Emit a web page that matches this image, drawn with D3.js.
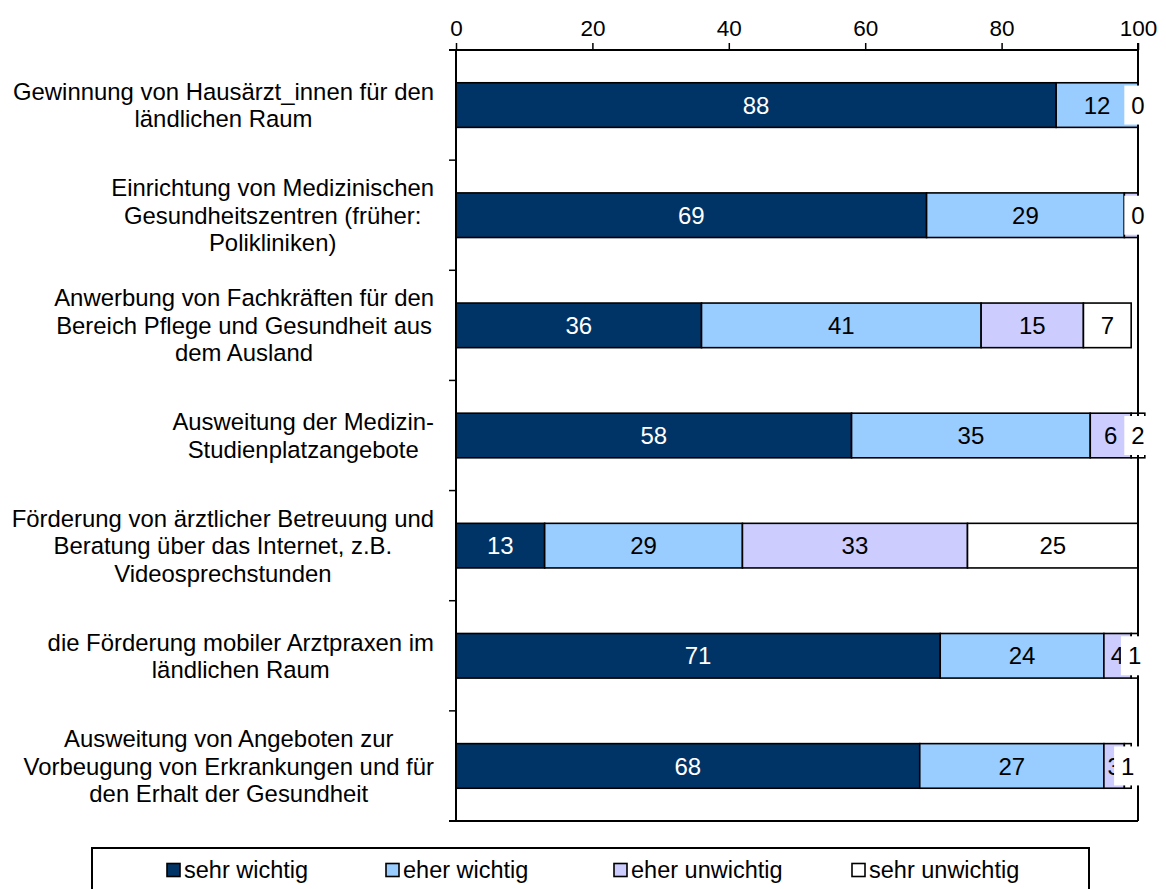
<!DOCTYPE html>
<html><head><meta charset="utf-8">
<script src="https://cdn.jsdelivr.net/npm/d3@7"></script>
<style>body{margin:0;background:#fff}svg{display:block;font-family:"Liberation Sans",Arial,sans-serif}</style>
</head><body><svg id="c" width="1166" height="889"></svg>
<script>
const categories = [
  ["Gewinnung von Hausärzt_innen für den","ländlichen Raum"],
  ["Einrichtung von Medizinischen","Gesundheitszentren (früher:","Polikliniken)"],
  ["Anwerbung von Fachkräften für den","Bereich Pflege und Gesundheit aus","dem Ausland"],
  ["Ausweitung der Medizin-","Studienplatzangebote"],
  ["Förderung von ärztlicher Betreuung und","Beratung über das Internet, z.B.","Videosprechstunden"],
  ["die Förderung mobiler Arztpraxen im","ländlichen Raum"],
  ["Ausweitung von Angeboten zur","Vorbeugung von Erkrankungen und für","den Erhalt der Gesundheit"]
];
const seriesNames = ["sehr wichtig","eher wichtig","eher unwichtig","sehr unwichtig"];
const sehrWichtig   = [88,69,36,58,13,71,68];
const eherWichtig   = [12,29,41,35,29,24,27];
const eherUnwichtig = [0,2,15,6,33,4,3];
const sehrUnwichtig = [0,0,7,2,25,1,1];
const xTicks = [0,20,40,60,80,100];
const colors = ["#003366","#99CCFF","#CCCCFF","#FFFFFF"];
const labelColors = ["#ffffff","#000000","#000000","#000000"];

const svg = d3.select("#c");
const L = 456, R = 1138, T = 50, B = 821;
const x = d3.scaleLinear().domain([0,100]).range([L,R]);
const y = d3.scaleBand().domain(d3.range(categories.length)).range([T,B]).padding(0);
const bw = y.bandwidth();
const barH = bw*0.405;

const seriesVals = [sehrWichtig,eherWichtig,eherUnwichtig,sehrUnwichtig];
const rows = categories.map((c,i)=>{
  let acc=0;
  return seriesVals.map((s,k)=>{const d={i,k,v:s[i],x0:acc,x1:acc+s[i]};acc+=s[i];return d;});
});
const segs = rows.flat();

// bars
svg.append("g").selectAll("rect").data(segs).join("rect")
  .attr("x",d=>x(d.x0)).attr("width",d=>x(d.x1)-x(d.x0))
  .attr("y",d=>y(d.i)+(bw-barH)/2).attr("height",barH)
  .attr("fill",d=>colors[d.k]).attr("stroke","#000").attr("stroke-width",1.6);

// plot frame & axes
const ax = svg.append("g").attr("stroke","#000").attr("stroke-width",2).attr("fill","none");
ax.append("line").attr("x1",L-7).attr("x2",R).attr("y1",T).attr("y2",T);
ax.append("line").attr("x1",L-7).attr("x2",R).attr("y1",B).attr("y2",B);
ax.append("line").attr("x1",L).attr("x2",L).attr("y1",T).attr("y2",B);
ax.append("line").attr("x1",R).attr("x2",R).attr("y1",T-7).attr("y2",B);
// top axis
const xa = svg.append("g").attr("transform",`translate(0,${T})`)
  .call(d3.axisTop(x).tickValues(xTicks).tickSize(7).tickPadding(7).tickFormat(d3.format("d")));
xa.select(".domain").remove();
xa.selectAll("line").attr("stroke","#000").attr("stroke-width",1.5);
xa.selectAll("text").attr("font-size",22.5).attr("fill","#000").attr("font-family","Liberation Sans, Arial, sans-serif");
// left category boundary ticks
svg.append("g").selectAll("line").data(d3.range(categories.length+1)).join("line")
  .attr("x1",L-7).attr("x2",L).attr("y1",d=>T+d*bw).attr("y2",d=>T+d*bw)
  .attr("stroke","#000").attr("stroke-width",1.5);

// category labels
const lh = 27.5;
categories.forEach((lines,i)=>{
  const g = svg.append("g");
  const cy = y(i)+bw/2;
  const t = g.selectAll("text").data(lines).join("text")
    .attr("font-size",23.9).attr("fill","#000").attr("text-anchor","middle")
    .attr("y",(d,j)=>cy+(j-(lines.length-1)/2)*lh).attr("dy","0.36em").text(d=>d);
  let mw=0; t.each(function(){mw=Math.max(mw,this.getComputedTextLength());});
  t.attr("x",434-mw/2);
});

// value labels
const lab = svg.append("g").attr("font-size",24).attr("text-anchor","middle");
const measure = lab.append("text").attr("visibility","hidden");
function tw(s){measure.text(s);return measure.node().getComputedTextLength();}
const pad = 7;
rows.forEach(row=>{
  const last = row[3];
  const lcx = x((last.x0+last.x1)/2), lw = tw(String(last.v));
  const boxL = lcx-lw/2-pad, boxR = lcx+lw/2+pad;
  row.forEach(d=>{
    const cx = x((d.x0+d.x1)/2), cy = y(d.i)+bw/2;
    if(d.k<3){
      const w = tw(String(d.v));
      if(cx-w/2>=boxL-0.5 && cx+w/2<=boxR+0.5) return; // fully hidden behind the last label
      lab.append("text").attr("x",cx).attr("y",cy).attr("dy","0.36em").attr("fill",labelColors[d.k]).text(d.v);
    }
  });
});
rows.forEach(row=>{
  const d = row[3];
  const cx = x((d.x0+d.x1)/2), cy = y(d.i)+bw/2, w = tw(String(d.v));
  lab.append("rect").attr("x",cx-w/2-pad).attr("y",cy-19.5).attr("width",w+2*pad).attr("height",39).attr("fill","#fff");
  lab.append("text").attr("x",cx).attr("y",cy).attr("dy","0.36em").attr("fill",labelColors[3]).text(d.v);
});
measure.remove();

// legend
const lg = svg.append("g");
lg.append("rect").attr("x",92).attr("y",848).attr("width",997).attr("height",60)
  .attr("fill","#fff").attr("stroke","#000").attr("stroke-width",2);
const legX = [167,386,614,852];
const li = lg.selectAll("g.it").data(seriesNames).join("g").attr("class","it")
  .attr("transform",(d,k)=>`translate(${legX[k]},870)`);
li.append("rect").attr("x",0).attr("y",-6.5).attr("width",13).attr("height",13)
  .attr("fill",(d,k)=>colors[k]).attr("stroke","#000").attr("stroke-width",1.6);
li.append("text").attr("x",17).attr("dy","0.36em").attr("font-size",23.5).attr("fill","#000").text(d=>d);
</script></body></html>
